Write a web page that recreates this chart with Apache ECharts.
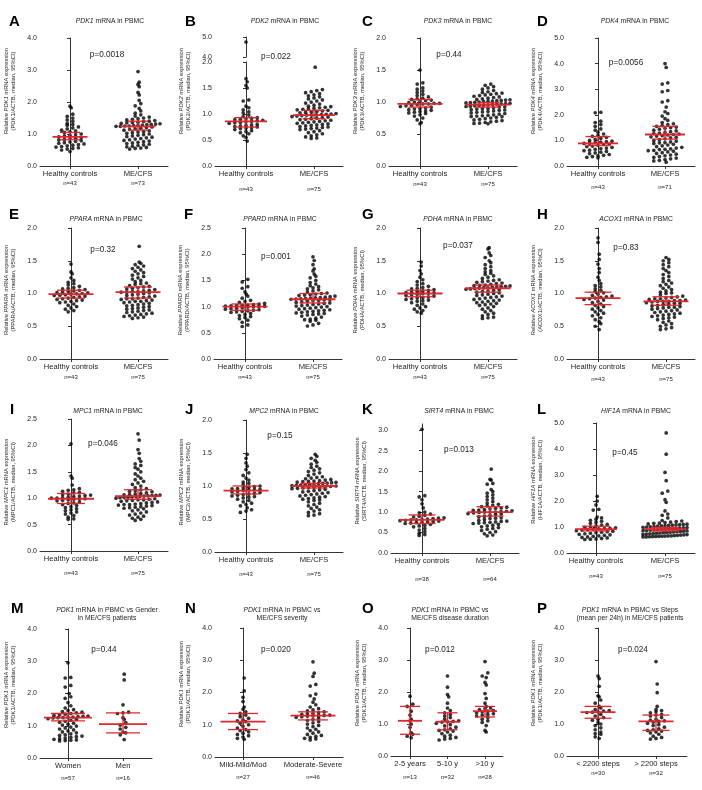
<!DOCTYPE html>
<html><head><meta charset="utf-8">
<script src="https://cdn.jsdelivr.net/npm/echarts@6.0.0/dist/echarts.min.js"></script>
<style>html,body{margin:0;padding:0;background:#fff;}#chart{width:702px;height:790px;}</style>
</head><body><div id="chart"></div>
<script>
// ---------- categories ----------
const catsHM = ['Healthy controls', 'ME/CFS'];
const catsM = ['Women', 'Men'];
const catsN = ['Mild-Mild/Mod', 'Moderate-Severe'];
const catsO = ['2-5 years', '5-10 y', '>10 y'];
const catsP = ['< 2200 steps', '> 2200 steps'];

// ---------- values (relative mRNA expression) ----------
const A_hc = [1.87,1.82,1.62,1.55,1.50,1.44,1.40,1.33,1.30,1.27,1.22,1.19,1.16,1.12,1.10,1.07,1.05,1.00,0.98,0.96,0.94,0.91,0.89,0.87,0.85,0.83,0.81,0.79,0.77,0.75,0.73,0.71,0.69,0.67,0.65,0.63,0.61,0.59,0.57,0.55,0.53,0.50,0.45];
const A_me = [2.95,2.62,2.55,2.48,2.30,2.22,2.05,1.95,1.88,1.80,1.72,1.65,1.60,1.56,1.53,1.50,1.48,1.46,1.44,1.42,1.40,1.39,1.37,1.36,1.35,1.33,1.32,1.31,1.30,1.29,1.28,1.27,1.26,1.25,1.25,1.24,1.24,1.22,1.20,1.18,1.16,1.14,1.12,1.10,1.08,1.06,1.04,1.02,1.00,0.98,0.96,0.94,0.92,0.90,0.88,0.86,0.84,0.82,0.80,0.78,0.76,0.74,0.72,0.70,0.68,0.66,0.64,0.62,0.60,0.58,0.56,0.55,0.53];
const B_hc = [4.75,1.68,1.62,1.55,1.50,1.27,1.25,1.15,1.12,1.08,1.04,1.02,0.98,0.95,0.93,0.92,0.91,0.90,0.89,0.88,0.87,0.86,0.85,0.84,0.83,0.82,0.80,0.79,0.78,0.77,0.76,0.75,0.74,0.73,0.72,0.70,0.68,0.66,0.64,0.62,0.58,0.55,0.48];
const B_me = [1.90,1.47,1.45,1.43,1.41,1.39,1.37,1.35,1.33,1.31,1.29,1.27,1.25,1.23,1.21,1.19,1.17,1.15,1.14,1.13,1.12,1.11,1.10,1.09,1.08,1.07,1.06,1.05,1.04,1.03,1.02,1.01,1.00,0.995,0.99,0.985,0.98,0.98,0.97,0.96,0.95,0.94,0.93,0.92,0.91,0.90,0.89,0.88,0.87,0.86,0.85,0.84,0.83,0.82,0.81,0.80,0.79,0.78,0.77,0.76,0.75,0.74,0.73,0.72,0.71,0.70,0.68,0.66,0.64,0.62,0.60,0.58,0.56,0.54,0.53];
const C_hc = [1.50,1.30,1.28,1.22,1.20,1.17,1.15,1.12,1.10,1.08,1.06,1.05,1.04,1.03,1.02,1.01,1.00,0.99,0.98,0.98,0.97,0.97,0.96,0.95,0.94,0.93,0.92,0.91,0.90,0.89,0.88,0.87,0.86,0.85,0.84,0.83,0.82,0.80,0.78,0.75,0.72,0.68,0.66];
const C_me = [1.28,1.26,1.24,1.22,1.20,1.18,1.16,1.15,1.14,1.13,1.12,1.11,1.10,1.09,1.08,1.07,1.06,1.05,1.04,1.035,1.03,1.025,1.02,1.015,1.01,1.005,1.00,0.995,0.99,0.985,0.98,0.975,0.97,0.965,0.96,0.955,0.95,0.945,0.94,0.935,0.93,0.925,0.92,0.91,0.90,0.895,0.89,0.88,0.875,0.87,0.86,0.85,0.845,0.84,0.83,0.82,0.81,0.80,0.79,0.785,0.78,0.775,0.77,0.76,0.75,0.74,0.73,0.72,0.71,0.70,0.69,0.68,0.67,0.665,0.66];
const D_hc = [2.10,2.08,1.75,1.70,1.62,1.55,1.45,1.40,1.32,1.25,1.20,1.16,1.12,1.08,1.04,1.00,0.97,0.95,0.93,0.91,0.89,0.88,0.86,0.84,0.81,0.78,0.76,0.73,0.70,0.68,0.65,0.62,0.60,0.57,0.54,0.51,0.48,0.45,0.42,0.40,0.37,0.34,0.32];
const D_me = [4.00,3.85,3.25,3.20,2.95,2.90,2.55,2.50,2.30,2.12,2.05,1.95,1.85,1.78,1.70,1.65,1.62,1.58,1.55,1.52,1.50,1.47,1.44,1.40,1.37,1.34,1.31,1.29,1.27,1.25,1.23,1.21,1.19,1.17,1.14,1.12,1.10,1.06,1.03,1.00,0.97,0.94,0.91,0.88,0.85,0.82,0.79,0.76,0.73,0.70,0.67,0.64,0.61,0.58,0.55,0.52,0.49,0.46,0.43,0.40,0.37,0.34,0.31,0.28,0.25,0.22,0.20,0.60,0.65,0.90,0.15];
const E_hc = [1.45,1.33,1.30,1.24,1.20,1.17,1.15,1.13,1.11,1.09,1.08,1.07,1.06,1.05,1.04,1.03,1.02,1.015,1.01,1.00,0.995,0.99,0.98,0.975,0.97,0.96,0.95,0.94,0.93,0.92,0.91,0.90,0.89,0.88,0.87,0.86,0.84,0.82,0.80,0.78,0.76,0.74,0.72];
const E_me = [1.72,1.48,1.46,1.44,1.42,1.40,1.38,1.36,1.34,1.32,1.30,1.28,1.26,1.24,1.22,1.20,1.18,1.16,1.14,1.12,1.11,1.10,1.09,1.08,1.07,1.06,1.05,1.04,1.03,1.03,1.02,1.02,1.01,1.00,0.99,0.98,0.97,0.96,0.95,0.94,0.93,0.92,0.91,0.90,0.89,0.88,0.87,0.86,0.85,0.84,0.83,0.82,0.81,0.80,0.79,0.78,0.77,0.76,0.75,0.74,0.73,0.72,0.71,0.70,0.69,0.68,0.67,0.66,0.65,0.64,0.63,0.62,0.88,0.92,1.15];
const F_hc = [1.52,1.47,1.38,1.35,1.28,1.24,1.20,1.16,1.12,1.10,1.08,1.06,1.05,1.04,1.03,1.025,1.02,1.015,1.01,1.005,1.00,0.995,0.99,0.98,0.97,0.96,0.95,0.94,0.93,0.92,0.91,0.90,0.89,0.87,0.85,0.83,0.81,0.79,0.77,0.74,0.70,0.65,0.62];
const F_me = [1.95,1.88,1.80,1.72,1.68,1.62,1.58,1.55,1.50,1.46,1.43,1.40,1.38,1.36,1.34,1.32,1.30,1.28,1.26,1.25,1.24,1.23,1.22,1.21,1.20,1.19,1.18,1.17,1.165,1.16,1.155,1.15,1.145,1.14,1.135,1.13,1.12,1.11,1.10,1.09,1.08,1.07,1.06,1.05,1.04,1.03,1.02,1.01,1.00,0.99,0.98,0.97,0.96,0.95,0.94,0.93,0.92,0.91,0.90,0.89,0.88,0.87,0.86,0.85,0.84,0.82,0.80,0.78,0.76,0.75,0.74,0.72,0.68,0.65,0.63];
const G_hc = [1.48,1.42,1.35,1.30,1.25,1.21,1.18,1.15,1.13,1.11,1.09,1.08,1.07,1.06,1.05,1.04,1.03,1.02,1.015,1.01,1.005,1.00,0.99,0.98,0.97,0.96,0.95,0.94,0.93,0.92,0.91,0.90,0.89,0.88,0.86,0.84,0.82,0.80,0.78,0.76,0.74,0.72,0.70];
const G_me = [1.70,1.68,1.62,1.58,1.55,1.50,1.47,1.44,1.41,1.38,1.35,1.33,1.31,1.29,1.27,1.25,1.23,1.21,1.20,1.19,1.18,1.17,1.16,1.15,1.14,1.13,1.125,1.12,1.115,1.11,1.105,1.10,1.095,1.09,1.085,1.08,1.075,1.07,1.065,1.06,1.05,1.04,1.03,1.02,1.01,1.00,0.99,0.98,0.97,0.96,0.95,0.94,0.93,0.92,0.91,0.90,0.89,0.88,0.87,0.86,0.85,0.84,0.83,0.82,0.80,0.78,0.76,0.74,0.72,0.70,0.68,0.66,0.64,0.63,0.62];
const H_hc = [1.85,1.78,1.60,1.52,1.45,1.38,1.32,1.25,1.20,1.15,1.12,1.10,1.07,1.05,1.03,1.01,0.99,0.97,0.96,0.95,0.94,0.93,0.92,0.91,0.90,0.88,0.86,0.84,0.82,0.80,0.78,0.76,0.74,0.72,0.70,0.68,0.66,0.63,0.60,0.57,0.54,0.50,0.45];
const H_me = [1.55,1.52,1.50,1.47,1.44,1.41,1.38,1.35,1.32,1.29,1.26,1.23,1.20,1.18,1.16,1.14,1.12,1.10,1.08,1.06,1.04,1.02,1.00,0.98,0.96,0.95,0.94,0.93,0.92,0.91,0.90,0.89,0.89,0.88,0.88,0.88,0.87,0.86,0.85,0.84,0.83,0.82,0.81,0.80,0.79,0.78,0.77,0.76,0.75,0.74,0.73,0.72,0.71,0.70,0.69,0.68,0.67,0.66,0.65,0.64,0.63,0.62,0.60,0.58,0.56,0.54,0.52,0.50,0.48,0.46,0.45,0.85,0.92,1.01,0.79];
const I_hc = [2.03,1.42,1.38,1.25,1.18,1.16,1.15,1.13,1.11,1.10,1.08,1.07,1.06,1.05,1.04,1.03,1.02,1.01,1.00,1.00,0.99,0.99,0.98,0.97,0.96,0.95,0.93,0.91,0.90,0.88,0.86,0.84,0.82,0.80,0.78,0.76,0.74,0.72,0.70,0.67,0.64,0.61,0.60];
const I_me = [2.22,2.10,1.92,1.85,1.75,1.70,1.65,1.62,1.58,1.55,1.50,1.46,1.42,1.38,1.35,1.32,1.29,1.26,1.23,1.20,1.18,1.16,1.14,1.12,1.10,1.09,1.08,1.07,1.065,1.06,1.055,1.05,1.045,1.04,1.035,1.03,1.025,1.02,1.01,1.00,0.99,0.98,0.97,0.96,0.95,0.94,0.93,0.92,0.91,0.90,0.89,0.88,0.87,0.86,0.85,0.84,0.83,0.82,0.81,0.80,0.78,0.76,0.74,0.72,0.70,0.68,0.66,0.64,0.62,0.60,0.58,0.97,1.02,1.13,0.88];
const J_hc = [1.48,1.42,1.35,1.30,1.25,1.20,1.16,1.12,1.09,1.06,1.04,1.02,1.00,0.99,0.98,0.97,0.96,0.955,0.95,0.945,0.94,0.93,0.92,0.91,0.90,0.89,0.88,0.87,0.86,0.85,0.84,0.83,0.82,0.80,0.78,0.76,0.74,0.72,0.70,0.67,0.64,0.62,0.60];
const J_me = [1.48,1.45,1.42,1.39,1.36,1.33,1.30,1.28,1.26,1.24,1.22,1.20,1.18,1.16,1.14,1.13,1.12,1.11,1.10,1.09,1.08,1.075,1.07,1.065,1.06,1.055,1.05,1.045,1.04,1.035,1.03,1.025,1.02,1.015,1.01,1.005,1.00,0.995,0.99,0.985,0.98,0.975,0.97,0.965,0.96,0.95,0.94,0.93,0.92,0.91,0.90,0.89,0.88,0.87,0.86,0.85,0.84,0.83,0.82,0.81,0.80,0.79,0.78,0.76,0.74,0.72,0.70,0.68,0.66,0.64,0.62,0.60,0.58,0.56,0.55];
const K_hc = [3.02,1.40,1.37,1.30,1.20,1.10,1.00,0.98,0.95,0.92,0.90,0.88,0.86,0.85,0.84,0.83,0.82,0.81,0.81,0.80,0.79,0.78,0.77,0.76,0.75,0.74,0.73,0.72,0.70,0.68,0.66,0.64,0.60,0.56,0.52,0.48,0.45,0.43];
const K_me = [2.05,1.80,1.78,1.70,1.68,1.55,1.50,1.46,1.42,1.38,1.34,1.30,1.26,1.22,1.19,1.17,1.15,1.13,1.12,1.10,1.08,1.06,1.05,1.04,1.03,1.02,1.01,1.00,1.00,1.00,0.99,0.98,0.96,0.94,0.92,0.90,0.88,0.86,0.84,0.82,0.80,0.78,0.77,0.76,0.75,0.74,0.73,0.72,0.70,0.68,0.66,0.64,0.62,0.60,0.58,0.55,0.52,0.50,0.47,0.44,0.42,0.85,0.95,1.09];
const L_hc = [2.18,2.00,1.85,1.68,1.65,1.38,1.35,1.30,1.26,1.22,1.18,1.14,1.10,1.07,1.04,1.01,0.99,0.97,0.95,0.94,0.93,0.92,0.90,0.88,0.86,0.84,0.82,0.80,0.78,0.76,0.74,0.72,0.70,0.68,0.66,0.64,0.62,0.60,0.58,0.56,0.54,0.53,0.52];
const L_me = [4.62,3.80,3.10,2.78,2.38,2.30,2.05,1.95,1.62,1.50,1.45,1.35,1.25,1.23,1.21,1.19,1.17,1.15,1.14,1.12,1.11,1.10,1.09,1.08,1.07,1.06,1.05,1.04,1.03,1.02,1.01,1.00,0.99,0.98,0.97,0.96,0.95,0.94,0.93,0.92,0.91,0.90,0.89,0.88,0.87,0.86,0.85,0.84,0.83,0.82,0.81,0.80,0.79,0.78,0.77,0.76,0.75,0.74,0.73,0.72,0.71,0.70,0.69,0.68,0.67,0.66,0.655,0.65,0.645,0.64,0.635,0.63,0.625,0.62,0.62];
const M_w = [2.95,2.50,2.48,2.25,2.20,2.00,1.90,1.85,1.72,1.62,1.55,1.50,1.47,1.44,1.42,1.40,1.38,1.36,1.34,1.32,1.30,1.29,1.28,1.27,1.26,1.25,1.25,1.24,1.22,1.20,1.17,1.14,1.11,1.08,1.05,1.02,0.99,0.96,0.93,0.90,0.87,0.84,0.81,0.78,0.75,0.72,0.70,0.68,0.66,0.64,0.62,0.60,0.58,0.56,0.55,0.54,0.53];
const M_m = [2.60,2.42,1.65,1.42,1.40,1.38,1.25,1.20,1.10,1.02,0.95,0.90,0.80,0.78,0.72,0.57];
const N_mild = [2.45,2.05,1.85,1.72,1.55,1.48,1.40,1.35,1.30,1.25,1.20,1.15,1.12,1.10,1.05,1.00,0.95,0.90,0.85,0.82,0.78,0.74,0.70,0.66,0.62,0.58,0.55];
const N_sev = [2.95,2.60,2.50,2.25,2.20,1.95,1.90,1.80,1.70,1.62,1.55,1.50,1.46,1.43,1.40,1.38,1.36,1.34,1.32,1.30,1.29,1.28,1.28,1.27,1.25,1.23,1.20,1.17,1.14,1.10,1.06,1.02,0.98,0.94,0.90,0.86,0.82,0.78,0.74,0.70,0.67,0.64,0.61,0.58,0.56,0.53];
const O_25 = [1.87,1.62,1.55,1.40,1.28,1.15,1.10,1.00,0.90,0.72,0.68,0.62,0.57];
const O_510 = [2.50,2.15,1.92,1.85,1.65,1.50,1.42,1.35,1.30,1.25,1.20,1.15,1.10,1.08,1.07,1.06,1.02,0.98,0.94,0.90,0.85,0.82,0.80,0.78,0.75,0.70,0.65,0.62,0.58,0.55,0.53,0.50];
const O_10 = [2.95,2.60,2.50,2.45,2.30,2.22,1.95,1.80,1.65,1.55,1.50,1.48,1.45,1.42,1.40,1.38,1.35,1.32,1.30,1.28,1.25,1.20,1.15,1.10,1.05,0.95,0.80,0.75];
const P_lo = [2.50,2.42,2.18,1.88,1.85,1.75,1.65,1.55,1.50,1.45,1.42,1.40,1.38,1.37,1.36,1.30,1.25,1.20,1.15,1.12,1.05,1.00,0.95,0.88,0.82,0.75,0.70,0.68,0.60,0.55];
const P_hi = [2.95,2.25,1.98,1.55,1.45,1.42,1.38,1.35,1.30,1.28,1.25,1.20,1.15,1.12,1.10,1.08,1.06,1.02,0.98,0.95,0.90,0.85,0.82,0.80,0.78,0.75,0.72,0.68,0.62,0.58,0.55,0.53];

// ---------- medians and 95% CI: [median, low, high] ----------
const A_stats = [[0.91,0.82,1.05],[1.24,1.12,1.40]];
const B_stats = [[0.86,0.75,0.93],[0.98,0.91,1.07]];
const C_stats = [[0.97,0.92,1.04],[0.96,0.92,0.99]];
const D_stats = [[0.88,0.80,1.15],[1.23,1.05,1.55]];
const E_stats = [[0.99,0.93,1.05],[1.02,0.93,1.10]];
const F_stats = [[1.00,0.93,1.05],[1.14,1.07,1.25]];
const G_stats = [[1.00,0.95,1.05],[1.08,1.02,1.13]];
const H_stats = [[0.93,0.83,1.02],[0.88,0.82,0.95]];
const I_stats = [[0.99,0.90,1.09],[1.04,0.98,1.16]];
const J_stats = [[0.93,0.88,1.00],[1.00,0.97,1.04]];
const K_stats = [[0.81,0.72,0.93],[1.00,0.90,1.13]];
const L_stats = [[0.92,0.85,1.03],[0.92,0.85,0.98]];
const M_stats = [[1.25,1.15,1.38],[1.05,0.78,1.40]];
const N_stats = [[1.10,0.85,1.35],[1.28,1.15,1.40]];
const O_stats = [[1.10,0.68,1.55],[1.07,0.82,1.35],[1.40,1.22,1.55]];
const P_stats = [[1.37,1.18,1.55],[1.08,0.80,1.28]];

// ---------- text ----------
const pTexts = ['p=0.0018','p=0.022','p=0.44','p=0.0056','p=0.32','p=0.001','p=0.037','p=0.83','p=0.046','p=0.15','p=0.013','p=0.45','p=0.44','p=0.020','p=0.012','p=0.024'];

// ---------- layout ----------
const FONT = '"Liberation Sans", Arial, Helvetica, sans-serif';
const TXT = '#1c1c1c';
const AX = '#333';
const RED = '#e3262b';

const panels = [
 {k:'A',gene:'PDK1',cats:catsHM,groups:[A_hc,A_me],stats:A_stats,ymax:4,step:1,L:40,T:38,B:166,W:128,off:30,sp:68,tx:110,ty:21,px:107,py:55,lx:9,ly:22,ny:91,nGap:9,medW:35,capW:20,cw:44},
 {k:'B',gene:'PDK2',cats:catsHM,groups:[B_hc,B_me],stats:B_stats,ymax:2,step:0.5,L:215,T:62,B:166,W:128,off:31,sp:68,tx:285,ty:21,px:276,py:57,lx:185,ly:22,ny:91,nGap:15,medW:42,capW:23,cw:44,
   brk:{min:4,max:5,step:1,T:37,B:57}},
 {k:'C',gene:'PDK3',cats:catsHM,groups:[C_hc,C_me],stats:C_stats,ymax:2,step:0.5,L:389,T:38,B:166,W:128,off:31,sp:68,tx:458,ty:21,px:449,py:55,lx:362,ly:22,ny:91,nGap:10,medW:45,capW:23,cw:44},
 {k:'D',gene:'PDK4',cats:catsHM,groups:[D_hc,D_me],stats:D_stats,ymax:5,step:1,L:567,T:38,B:166,W:128,off:31,sp:67,tx:635,ty:21,px:626,py:63,lx:537,ly:22,ny:91,nGap:13,medW:40,capW:25,cw:44},
 {k:'E',gene:'PPARA',cats:catsHM,groups:[E_hc,E_me],stats:E_stats,ymax:2,step:0.5,L:40,T:228,B:359,W:128,off:31,sp:67,tx:106,ty:219,px:103,py:250,lx:9,ly:215,ny:290,nGap:10,medW:45,capW:28,cw:44},
 {k:'F',gene:'PPARD',cats:catsHM,groups:[F_hc,F_me],stats:F_stats,ymax:2.5,step:0.5,L:214,T:228,B:359,W:128,off:31,sp:68,tx:280,ty:219,px:276,py:257,lx:184,ly:215,ny:290,nGap:10,medW:45,capW:27,cw:44},
 {k:'G',gene:'PDHA',cats:catsHM,groups:[G_hc,G_me],stats:G_stats,ymax:2,step:0.5,L:389,T:228,B:359,W:128,off:31,sp:68,tx:458,ty:219,px:458,py:246,lx:362,ly:215,ny:290,nGap:10,medW:45,capW:27,cw:44},
 {k:'H',gene:'ACOX1',cats:catsHM,groups:[H_hc,H_me],stats:H_stats,ymax:2,step:0.5,L:567,T:228,B:359,W:128,off:31,sp:68,tx:636,ty:219,px:626,py:248,lx:537,ly:215,ny:290,nGap:12,medW:45,capW:27,cw:44},
 {k:'I',gene:'MPC1',cats:catsHM,groups:[I_hc,I_me],stats:I_stats,ymax:2.5,step:0.5,L:40,T:419,B:551,W:128,off:31,sp:67,tx:108,ty:411,px:103,py:444,lx:10,ly:410,ny:482,nGap:14,medW:46,capW:28,cw:44},
 {k:'J',gene:'MPC2',cats:catsHM,groups:[J_hc,J_me],stats:J_stats,ymax:2,step:0.5,L:215,T:420,B:552,W:128,off:31,sp:68,tx:284,ty:411,px:280,py:436,lx:185,ly:410,ny:482,nGap:14,medW:45,capW:27,cw:44},
 {k:'K',gene:'SIRT4',cats:catsHM,groups:[K_hc,K_me],stats:K_stats,ymax:3.15,step:0.5,L:391,T:424,B:553,W:128,off:31,sp:68,tx:459,ty:411,px:459,py:450,lx:362,ly:410,ny:481,nGap:18,medW:45,capW:27,cw:44},
 {k:'L',gene:'HIF1A',cats:catsHM,groups:[L_hc,L_me],stats:L_stats,ymax:5,step:1,L:567,T:423,B:553,W:128,off:29,sp:69,tx:636,ty:411,px:625,py:453,lx:537,ly:410,ny:480,nGap:15,medW:42,capW:28,cw:44},
 {k:'M',gene:'PDK1',t1:' vs Gender',t2:'in ME/CFS patients',cats:catsM,groups:[M_w,M_m],stats:M_stats,ymax:4,step:1,L:40,T:629,B:758,W:112,off:28,sp:55,tx:107,ty:614.5,px:104,py:650,lx:11,ly:609,ny:685,nGap:12,medW:48,capW:34,cw:40},
 {k:'N',gene:'PDK1',t1:' vs',t2:'ME/CFS severity',cats:catsN,groups:[N_mild,N_sev],stats:N_stats,ymax:4,step:1,L:215,T:628,B:757,W:128,off:28,sp:70,tx:282,ty:614.5,px:276,py:650,lx:185,ly:609,ny:684,nGap:12,medW:45,capW:30,cw:42},
 {k:'O',gene:'PDK1',t1:' vs',t2:'ME/CFS disease duration',cats:catsO,groups:[O_25,O_510,O_10],stats:O_stats,ymax:4,step:1,L:391,T:628,B:756,W:112,off:19,sp:37.5,tx:450,ty:614.5,px:440,py:650,lx:362,ly:609,ny:683,nGap:13,medW:24,capW:20,cw:28},
 {k:'P',gene:'PDK1',t1:' vs Steps',t2:'(mean per 24h) in ME/CFS patients',cats:catsP,groups:[P_lo,P_hi],stats:P_stats,ymax:4,step:1,L:567,T:628,B:756,W:120,off:31,sp:58,tx:630,ty:614.5,px:633,py:650,lx:537,ly:609,ny:683,nGap:9,medW:35,capW:27,cw:40}
];

function ticksOf(min, max, step) {
  const t = [];
  for (let v = min; v <= max + 1e-9; v = Math.round((v + step) * 1000) / 1000) t.push(v);
  return t;
}

// scatter-dot-plot arrangement (layout only, values unchanged)
function swarm(vals, idx, pxPerY, pxPerX, maxW) {
  const binH = 3.4, gapMax = 5.6;
  const sorted = vals.slice().sort((a, b) => a - b);
  const bins = new Map();
  sorted.forEach(v => {
    const key = Math.round(v * pxPerY / binH);
    if (!bins.has(key)) bins.set(key, []);
    bins.get(key).push(v);
  });
  const pts = [];
  bins.forEach((arr, key) => {
    const n = arr.length;
    const gap = n > 1 ? Math.min(gapMax, maxW / (n - 1)) : 0;
    const shift = (n === 1 && (key % 2 !== 0)) ? 1.2 : 0;
    arr.forEach((v, j) => pts.push([idx + ((j - (n - 1) / 2) * gap + shift) / pxPerX, v]));
  });
  return pts;
}

const grid = [], xAxis = [], yAxis = [], series = [], graphic = [];

function addAxes(p, top, bottom, ymin, ymax, step, showX) {
  const gi = grid.length;
  const xmin = -p.off / p.sp, xmax = (p.W - p.off) / p.sp;
  grid.push({left: p.L, top: top, width: p.W, height: bottom - top});
  const idxs = p.cats.map((c, i) => i);
  const nLH = 2 * p.nGap - 10;
  xAxis.push({
    gridIndex: gi, type: 'value', min: xmin, max: xmax, show: showX,
    axisLine: {show: true, onZero: false, lineStyle: {color: AX, width: 1}},
    axisTick: {show: true, customValues: idxs, length: 3, lineStyle: {color: AX, width: 1}},
    axisLabel: {
      customValues: idxs, margin: 3, color: TXT,
      formatter: v => { const i = Math.round(v); return '{c|' + p.cats[i] + '}\n{n|n=' + p.groups[i].length + '}'; },
      rich: {
        c: {fontSize: 7.6, lineHeight: 10, fontFamily: FONT, color: TXT},
        n: {fontSize: 6, lineHeight: nLH, fontFamily: FONT, color: TXT}
      }
    },
    splitLine: {show: false}
  });
  yAxis.push({
    gridIndex: gi, type: 'value', min: ymin, max: ymax,
    axisLine: {show: true, lineStyle: {color: AX, width: 1}},
    axisTick: {show: true, customValues: ticksOf(ymin, ymax, step), length: 3, lineStyle: {color: AX, width: 1}},
    axisLabel: {customValues: ticksOf(ymin, ymax, step), margin: 3, fontSize: 7, fontFamily: FONT, color: TXT, formatter: v => v.toFixed(1)},
    splitLine: {show: false}
  });
  return gi;
}

panels.forEach((p, pi) => {
  const gi = addAxes(p, p.T, p.B, 0, p.ymax, p.step, true);
  const pxPerY = (p.B - p.T) / p.ymax;
  let gu = null, pxPerYu = 0;
  if (p.brk) {
    gu = addAxes(p, p.brk.T, p.brk.B, p.brk.min, p.brk.max, p.brk.step, false);
    pxPerYu = (p.brk.B - p.brk.T) / (p.brk.max - p.brk.min);
  }
  p.groups.forEach((vals, i) => {
    const low = p.brk ? vals.filter(v => v <= p.ymax) : vals;
    series.push({type: 'scatter', xAxisIndex: gi, yAxisIndex: gi, symbol: 'circle', symbolSize: 3.7,
      itemStyle: {color: '#000'}, silent: true, data: swarm(low, i, pxPerY, p.sp, p.cw), z: 2});
    if (p.brk) {
      const up = vals.filter(v => v > p.ymax);
      series.push({type: 'scatter', xAxisIndex: gu, yAxisIndex: gu, symbol: 'circle', symbolSize: 3.7,
        itemStyle: {color: '#000'}, silent: true, data: swarm(up, i, pxPerYu, p.sp, p.cw), z: 2});
    }
  });
  series.push({
    type: 'custom', xAxisIndex: gi, yAxisIndex: gi, silent: true, z: 5,
    data: p.stats.map((s, i) => [i, s[0], s[1], s[2]]),
    encode: {x: 0, y: 1},
    renderItem: (params, api) => {
      const i = api.value(0);
      const pm = api.coord([i, api.value(1)]);
      const pl = api.coord([i, api.value(2)]);
      const ph = api.coord([i, api.value(3)]);
      const mw = p.medW / 2, cw = p.capW / 2;
      const ln = (x1, y1, x2, y2, w) => ({type: 'line', shape: {x1, y1, x2, y2}, style: {stroke: RED, lineWidth: w}});
      return {type: 'group', children: [
        ln(pm[0] - mw, pm[1], pm[0] + mw, pm[1], 1.8),
        ln(pl[0], pl[1], ph[0], ph[1], 1.3),
        ln(pl[0] - cw, pl[1], pl[0] + cw, pl[1], 1.3),
        ln(ph[0] - cw, ph[1], ph[0] + cw, ph[1], 1.3)
      ]};
    }
  });

  graphic.push({type: 'text', x: p.lx, y: p.ly, silent: true,
    style: {text: p.k, font: 'bold 15px ' + FONT, fill: '#000', verticalAlign: 'middle', align: 'left'}});
  const tRich = {
    i: {fontStyle: 'italic', fontSize: 6.8, fontFamily: FONT, fill: TXT, lineHeight: 8},
    r: {fontSize: 6.8, fontFamily: FONT, fill: TXT, lineHeight: 8}
  };
  const tText = p.t2 ? ('{i|' + p.gene + '}{r| mRNA in PBMC' + p.t1 + '}\n{r|' + p.t2 + '}') : ('{i|' + p.gene + '}{r| mRNA in PBMC}');
  graphic.push({type: 'text', x: p.tx, y: p.ty, silent: true,
    style: {text: tText, rich: tRich, align: 'center', verticalAlign: 'middle', fill: TXT}});
  graphic.push({type: 'text', x: p.px, y: p.py, silent: true,
    style: {text: pTexts[pi], font: '8.2px ' + FONT, fill: TXT, align: 'center', verticalAlign: 'middle'}});
  const nRich = {
    i: {fontStyle: 'italic', fontSize: 5.8, fontFamily: FONT, fill: TXT, lineHeight: 7},
    r: {fontSize: 5.8, fontFamily: FONT, fill: TXT, lineHeight: 7}
  };
  graphic.push({type: 'text', x: p.L - 30, y: p.ny, rotation: Math.PI / 2, silent: true,
    style: {text: '{r|Relative }{i|' + p.gene + '}{r| mRNA expression}\n{r|(' + p.gene + '/ACTB, median, 95%CI)}',
      rich: nRich, align: 'center', verticalAlign: 'middle', fill: TXT}});
});

const chart = echarts.init(document.getElementById('chart'), null, {renderer: 'canvas'});
chart.setOption({animation: false, backgroundColor: '#fff', grid, xAxis, yAxis, series, graphic});
</script></body></html>
